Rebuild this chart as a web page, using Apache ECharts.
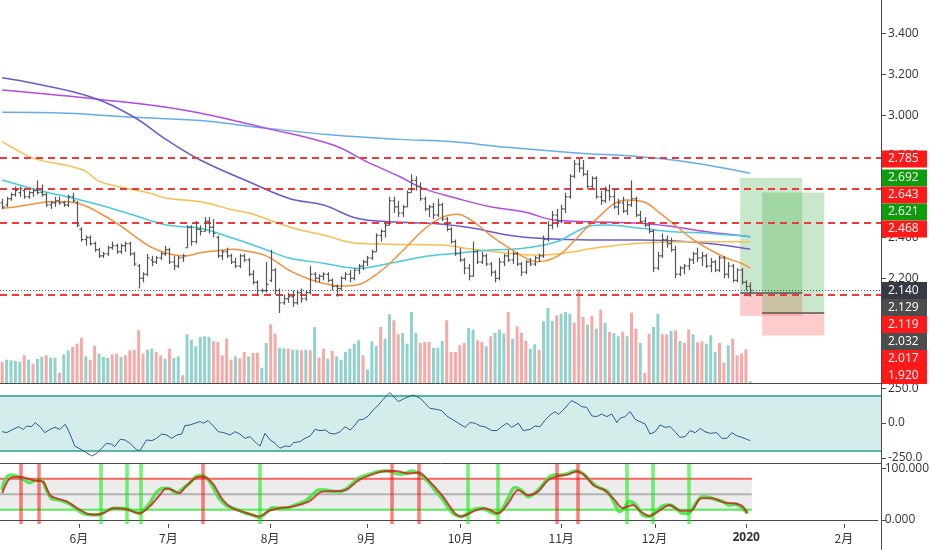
<!DOCTYPE html>
<html><head><meta charset="utf-8">
<script src="https://cdn.jsdelivr.net/npm/echarts@6/dist/echarts.min.js"></script>
<style>html,body{margin:0;padding:0;background:#fff}#c{width:932px;height:550px}</style>
</head><body><div id="c"></div>
<script>
// ---------- DATA ----------
const opens = [2.57,2.56,2.59,2.61,2.62,2.63,2.60,2.62,2.63,2.62,2.61,2.56,2.57,2.58,2.57,2.56,2.60,2.57,2.44,2.39,2.40,2.37,2.34,2.31,2.32,2.35,2.36,2.33,2.36,2.37,2.32,2.26,2.20,2.22,2.29,2.28,2.30,2.32,2.34,2.28,2.26,2.30,2.35,2.45,2.38,2.44,2.43,2.48,2.45,2.40,2.31,2.33,2.31,2.28,2.26,2.31,2.29,2.22,2.18,2.14,2.14,2.19,2.24,2.14,2.08,2.10,2.11,2.08,2.13,2.10,2.13,2.22,2.20,2.21,2.22,2.19,2.16,2.15,2.20,2.22,2.20,2.24,2.26,2.28,2.30,2.33,2.41,2.43,2.46,2.58,2.55,2.52,2.55,2.62,2.68,2.65,2.59,2.54,2.55,2.51,2.56,2.49,2.44,2.38,2.32,2.29,2.25,2.21,2.33,2.28,2.31,2.27,2.23,2.20,2.28,2.31,2.29,2.32,2.27,2.23,2.28,2.27,2.30,2.31,2.39,2.46,2.51,2.48,2.54,2.60,2.70,2.76,2.74,2.71,2.65,2.69,2.60,2.58,2.63,2.60,2.55,2.57,2.53,2.56,2.59,2.51,2.48,2.46,2.43,2.25,2.31,2.39,2.37,2.34,2.22,2.25,2.26,2.29,2.32,2.30,2.31,2.26,2.28,2.24,2.30,2.22,2.26,2.19,2.24,2.18,2.16];
const highs = [2.59,2.60,2.62,2.65,2.65,2.64,2.63,2.64,2.68,2.66,2.62,2.58,2.60,2.60,2.58,2.61,2.62,2.58,2.45,2.41,2.41,2.38,2.35,2.33,2.36,2.38,2.37,2.37,2.38,2.38,2.33,2.27,2.23,2.32,2.31,2.31,2.33,2.36,2.35,2.31,2.31,2.32,2.46,2.46,2.48,2.46,2.50,2.50,2.49,2.41,2.34,2.35,2.32,2.30,2.32,2.32,2.30,2.24,2.19,2.15,2.28,2.34,2.25,2.15,2.12,2.13,2.14,2.14,2.15,2.14,2.26,2.23,2.22,2.23,2.23,2.20,2.17,2.21,2.23,2.24,2.25,2.27,2.29,2.31,2.34,2.42,2.44,2.47,2.60,2.60,2.58,2.56,2.63,2.71,2.70,2.67,2.60,2.56,2.57,2.59,2.57,2.50,2.45,2.39,2.35,2.30,2.27,2.38,2.34,2.33,2.32,2.28,2.24,2.30,2.32,2.34,2.33,2.33,2.28,2.29,2.30,2.31,2.32,2.41,2.48,2.53,2.54,2.56,2.62,2.71,2.78,2.785,2.78,2.73,2.70,2.70,2.63,2.65,2.66,2.64,2.59,2.60,2.58,2.68,2.60,2.53,2.50,2.47,2.44,2.33,2.42,2.41,2.40,2.36,2.26,2.27,2.30,2.33,2.35,2.33,2.32,2.30,2.29,2.31,2.31,2.28,2.27,2.25,2.25,2.19,2.18];
const lows = [2.54,2.55,2.58,2.60,2.60,2.59,2.59,2.60,2.61,2.60,2.55,2.54,2.55,2.56,2.55,2.55,2.57,2.45,2.38,2.36,2.36,2.33,2.30,2.30,2.31,2.34,2.32,2.32,2.33,2.31,2.26,2.15,2.18,2.21,2.26,2.27,2.29,2.31,2.27,2.24,2.25,2.28,2.35,2.36,2.37,2.41,2.43,2.42,2.40,2.30,2.29,2.30,2.27,2.25,2.25,2.28,2.21,2.17,2.12,2.13,2.13,2.18,2.12,2.03,2.07,2.08,2.06,2.07,2.08,2.09,2.12,2.18,2.18,2.19,2.18,2.14,2.11,2.14,2.19,2.18,2.19,2.22,2.24,2.26,2.29,2.33,2.38,2.40,2.46,2.52,2.50,2.50,2.55,2.62,2.63,2.58,2.53,2.50,2.49,2.50,2.48,2.43,2.37,2.31,2.28,2.22,2.19,2.21,2.27,2.27,2.26,2.21,2.18,2.19,2.26,2.28,2.27,2.26,2.21,2.22,2.26,2.26,2.28,2.30,2.38,2.44,2.45,2.47,2.52,2.59,2.69,2.72,2.70,2.64,2.64,2.59,2.56,2.57,2.58,2.54,2.51,2.52,2.51,2.55,2.50,2.47,2.45,2.42,2.23,2.24,2.30,2.35,2.33,2.20,2.21,2.22,2.24,2.27,2.28,2.26,2.25,2.23,2.23,2.23,2.20,2.20,2.18,2.18,2.17,2.14,2.11];
const closes = [2.55,2.59,2.61,2.63,2.64,2.60,2.62,2.63,2.62,2.61,2.56,2.57,2.58,2.57,2.56,2.60,2.58,2.46,2.39,2.40,2.37,2.34,2.31,2.32,2.35,2.36,2.33,2.36,2.37,2.32,2.27,2.20,2.22,2.30,2.28,2.30,2.32,2.34,2.28,2.26,2.30,2.31,2.45,2.38,2.44,2.43,2.48,2.45,2.42,2.31,2.33,2.31,2.28,2.26,2.31,2.29,2.22,2.18,2.14,2.14,2.17,2.24,2.14,2.08,2.10,2.11,2.08,2.13,2.10,2.13,2.22,2.20,2.21,2.22,2.19,2.16,2.15,2.20,2.22,2.20,2.24,2.26,2.28,2.30,2.33,2.41,2.43,2.46,2.58,2.55,2.52,2.55,2.62,2.68,2.65,2.59,2.54,2.55,2.51,2.56,2.49,2.44,2.38,2.32,2.29,2.25,2.21,2.33,2.28,2.31,2.27,2.23,2.20,2.28,2.31,2.29,2.32,2.27,2.23,2.28,2.27,2.30,2.31,2.39,2.46,2.51,2.48,2.54,2.60,2.70,2.76,2.74,2.71,2.65,2.69,2.60,2.58,2.63,2.60,2.55,2.57,2.53,2.56,2.59,2.51,2.48,2.46,2.43,2.25,2.31,2.39,2.37,2.34,2.22,2.25,2.26,2.29,2.32,2.30,2.31,2.26,2.28,2.24,2.30,2.22,2.26,2.19,2.24,2.18,2.16,2.14];
const volumes = [21.0,23.3,22.7,22.0,21.3,27.7,23.3,19.3,24.0,26.0,27.7,25.3,25.3,10.0,28.7,32.7,36.0,39.3,45.3,26.7,23.3,37.0,29.3,26.0,25.3,28.7,29.3,26.0,27.7,32.7,33.3,52.7,29.3,33.3,34.3,31.0,27.7,24.3,34.3,25.0,26.7,7.7,48.7,43.3,36.7,46.0,46.7,46.0,41.7,41.0,27.7,44.3,23.3,26.7,24.7,31.0,26.7,30.0,30.0,15.3,40.0,58.7,49.3,35.3,34.7,34.3,33.3,33.3,32.7,33.3,32.7,56.0,25.3,34.3,24.3,32.0,26.7,23.3,31.0,34.3,39.3,42.7,27.7,13.7,41.7,37.0,56.0,44.3,68.7,62.7,48.7,50.0,39.3,71.0,50.3,40.0,41.0,41.0,35.3,35.3,42.0,62.7,31.0,31.0,37.7,40.0,55.0,53.3,42.7,41.0,36.7,46.7,50.0,53.3,49.3,71.0,44.3,56.7,50.0,42.0,34.3,38.7,33.3,61.7,75.0,62.0,67.7,69.3,71.0,69.3,60.3,93.7,66.0,58.3,67.0,54.3,73.3,60.3,51.0,50.0,46.7,51.0,46.7,70.3,54.3,40.0,10.0,49.3,56.0,69.3,48.7,48.7,52.0,52.7,42.0,40.0,53.7,48.7,40.7,41.7,39.3,47.7,31.0,40.0,20.0,37.7,44.3,27.7,29.3,33.7,1.7];
const volUp = [0,1,1,1,1,0,1,0,1,1,0,1,1,0,1,1,0,0,0,1,0,0,1,1,1,0,0,1,0,0,0,0,0,1,1,0,0,1,0,1,1,0,1,1,1,1,1,1,0,0,0,0,0,1,0,0,1,0,0,1,1,0,0,1,1,0,1,1,0,1,0,1,0,0,1,0,1,1,1,1,1,1,0,1,1,1,0,1,1,0,0,1,1,1,1,0,0,0,1,1,1,0,0,0,0,0,1,1,0,0,1,0,1,1,1,0,1,0,0,0,1,1,0,1,1,1,0,1,1,1,0,0,0,1,0,1,0,1,0,1,1,0,1,0,0,1,0,0,1,1,0,0,1,0,1,0,0,1,0,0,1,1,1,0,0,1,0,0,0,0,1];

// moving averages: [bar index, price]
const maFast = [[0,2.543],[3.3,2.551],[7.1,2.564],[10.9,2.575],[14.7,2.575],[18.4,2.559],[22.2,2.519],[26,2.470],[29.8,2.412],[33.6,2.355],[37.4,2.323],[41.2,2.309],[45,2.325],[48.8,2.335],[52.5,2.342],[56.3,2.330],[60.1,2.309],[63.9,2.257],[65.4,2.237],[69.2,2.200],[73,2.175],[76.8,2.162],[80.6,2.167],[84.3,2.208],[88.1,2.274],[91.9,2.355],[95.7,2.437],[99.5,2.494],[103.3,2.514],[107.1,2.477],[110.9,2.412],[114.7,2.355],[118.4,2.306],[121.5,2.281],[126,2.306],[129.8,2.379],[134.3,2.477],[141.9,2.584],[145.7,2.575],[149.5,2.519],[153.3,2.453],[157.1,2.388],[160.9,2.339],[164.7,2.298],[167.7,2.276],[170,2.250]];
const maCyan = [[0,2.682],[4,2.657],[9.3,2.625],[14.7,2.600],[22.2,2.559],[29.8,2.510],[37.4,2.461],[45,2.445],[52.5,2.396],[60.1,2.339],[65.4,2.298],[73,2.274],[80.6,2.249],[88.1,2.274],[95.7,2.306],[103.3,2.323],[110.9,2.339],[118.4,2.347],[126,2.379],[129.8,2.421],[133.6,2.456],[137.4,2.461],[145,2.445],[152.5,2.428],[160.1,2.421],[170,2.404]];
const maYellow = [[0,2.870],[3.3,2.829],[7.1,2.788],[18.4,2.731],[22.2,2.674],[33.6,2.617],[37.4,2.592],[45,2.575],[52.5,2.535],[56.3,2.519],[63.9,2.461],[67.7,2.437],[73,2.412],[80.6,2.372],[88.1,2.367],[99.5,2.363],[107.1,2.342],[114.7,2.323],[122.2,2.314],[129.8,2.330],[133.6,2.345],[145,2.372],[160.1,2.379],[170,2.379]];
const maSlate = [[0,3.183],[7.1,3.156],[20,3.090],[29.8,2.992],[37.4,2.878],[45,2.780],[56.3,2.671],[65.4,2.590],[73,2.559],[80.6,2.494],[88.1,2.477],[99.5,2.466],[107.1,2.445],[114.7,2.412],[122.2,2.396],[133.6,2.388],[145,2.388],[160.1,2.372],[170,2.342]];
const maViolet = [[0,3.123],[22.2,3.077],[41.2,3.025],[60.1,2.935],[75.2,2.853],[82.8,2.772],[90.4,2.698],[95.6,2.641],[103.3,2.592],[110.9,2.551],[118.4,2.526],[126,2.484],[133.6,2.477],[145,2.470],[152.5,2.453],[160.1,2.428],[170,2.404]];
const maSky = [[0,3.014],[14.7,3.009],[29.7,2.989],[45,2.973],[60.1,2.935],[75.2,2.902],[90.4,2.881],[101.8,2.870],[114.7,2.842],[129.8,2.816],[145,2.796],[152.5,2.780],[160.1,2.755],[170,2.715]];

// CCI: [bar index, value]
const cci = [[0,-63],[1,-70],[2.5,-46],[3.7,-27],[4.8,-46],[5.6,-22],[6.7,-27],[7.5,3],[8.6,-27],[9.7,-70],[10.9,-46],[12,-31],[13.1,-46],[14.3,-10],[15,-51],[15.8,-111],[16.5,-167],[17.7,-188],[18.8,-208],[20.3,-239],[21.5,-220],[22.6,-183],[23.7,-147],[24.9,-154],[25.6,-171],[26.8,-118],[27.9,-123],[29,-147],[30.6,-195],[31.3,-200],[32.8,-123],[34,-128],[35.1,-111],[36.2,-80],[37.4,-87],[38.5,-111],[39.7,-87],[40.8,-80],[41.5,-19],[42.7,-14],[43.8,-2],[45,10],[45.7,-2],[46.8,17],[48,-22],[49.1,-63],[50.3,-70],[51.8,-87],[52.9,-63],[54,-80],[55.2,-111],[56.3,-99],[57.8,-147],[58.6,-167],[59.7,-75],[60.9,-123],[62,-147],[63.1,-183],[64.3,-167],[65.4,-171],[66.2,-142],[67.7,-135],[68.8,-111],[70,-94],[71.1,-46],[72.2,-55],[73.4,-51],[74.5,-75],[75.6,-80],[76.8,-63],[77.9,-27],[79.1,-51],[80.2,-14],[81,22],[82.1,27],[83.2,51],[84.3,94],[85.5,130],[86.6,172],[88.1,220],[90,155],[91.5,179],[93.4,203],[95,179],[97.2,106],[98.7,99],[99.9,89],[101,51],[102.5,22],[103.7,-2],[105.2,-31],[106.3,3],[107.5,-2],[108.6,-22],[109.7,-27],[111.2,-55],[112.4,-55],[113.5,-27],[114.7,-2],[115.8,-31],[117.3,-2],[118.4,-55],[120,-46],[121.1,-22],[122.2,-27],[123.4,22],[124.5,58],[125.6,82],[126.4,63],[127.5,94],[128.7,138],[129.4,162],[130.6,143],[131.7,118],[132.8,114],[134,51],[135.1,46],[136.2,65],[137.4,46],[138.5,65],[139.7,3],[140.4,34],[141.5,46],[142.7,82],[143.8,27],[144.9,10],[146.1,-7],[147.2,-80],[148.4,-63],[149.5,-14],[150.6,-31],[151.8,-27],[152.9,-63],[154,-104],[155.2,-99],[156.3,-55],[157.5,-70],[158.6,-39],[159.7,-63],[160.9,-75],[162.4,-70],[163.5,-111],[164.7,-111],[165.8,-70],[167,-94],[168.1,-104],[169.2,-118],[170,-128]];

// Stochastic %K and %D: [bar index, value]
const stochK = [[0,58],[0.6,77],[1.8,87],[3.3,85],[4.8,79],[6.3,72],[7.8,77],[9,77],[10.1,58],[11.2,42],[12.8,39],[14.3,35],[15.8,29],[17.3,19],[18.8,12],[20.3,10],[21.9,10],[23,14],[24.1,19],[25.6,23],[27.2,23],[28.7,21],[30.2,16],[31.3,13],[32.5,21],[33.6,32],[35.1,52],[36.6,61],[38.1,61],[39.7,52],[41.2,61],[42.7,71],[44.2,84],[45.3,86],[46.5,83],[48,65],[49.5,42],[51,29],[52.5,23],[54,19],[55.6,13],[57.1,10],[58.6,5],[60.1,13],[61.6,24],[63.1,23],[64.7,23],[66.2,27],[67.7,32],[69.2,37],[70.7,48],[72.2,58],[73.7,58],[75.3,56],[76.8,55],[78.3,59],[79.8,70],[81.3,81],[82.8,86],[84.3,90],[85.9,94],[87.4,95],[88.9,94],[90.4,89],[91.9,90],[93.4,95],[95,90],[97.2,74],[98.7,58],[100.3,42],[101.8,23],[103.3,10],[104.8,7],[106.3,13],[107.8,21],[109.4,23],[110.9,18],[112.4,12],[113.9,19],[115.4,42],[116.9,63],[118.4,58],[120,45],[121.5,52],[123,65],[124.5,81],[126,87],[127.5,87],[129,90],[130.6,95],[132.1,92],[133.6,81],[135.1,68],[136.6,61],[138.1,55],[139.7,32],[140.8,16],[141.9,23],[143.1,36],[144.6,29],[146.1,10],[147.6,7],[149.1,16],[150.6,27],[152.2,29],[153.7,23],[155.2,13],[156.7,14],[158.2,32],[159.7,45],[161.2,44],[162.8,39],[164.3,36],[165.8,29],[167.3,31],[168.8,23],[170,13]];
const stochD = [[0,52],[1.8,81],[4,84],[7.1,77],[9.3,74],[10.9,48],[12.4,42],[14.7,36],[16.9,24],[19.2,13],[21.1,10],[23,13],[25.3,23],[28.3,21],[31.3,13],[33.6,26],[35.9,48],[37.4,61],[38.9,58],[40.4,52],[41.9,65],[44.2,82],[45.7,84],[48,71],[50.3,39],[52.5,23],[55.6,14],[58.6,7],[60.9,18],[63.1,23],[66.2,26],[70,36],[73,55],[76,56],[78.3,58],[81.3,77],[84.3,88],[87.4,95],[89.7,95],[92.7,90],[95,92],[97.2,77],[100.3,48],[103.3,13],[104.8,7],[107.8,18],[110.1,23],[113.1,13],[115.4,32],[117.7,58],[120,48],[122.2,55],[124.5,77],[126.8,85],[129,88],[131,94],[132.8,87],[135.1,66],[137.4,58],[139.7,39],[141.5,23],[143.8,29],[145.7,16],[147.6,8],[149.9,18],[152.2,29],[154.8,18],[157.1,18],[159.4,42],[162,42],[164.7,34],[167,32],[168.8,27],[170,13]];
const stochSell = [4.2,8.3,45.7,88.9,95.1,126.4,131.3];
const stochBuy = [22.4,28.4,31.5,58.7,106.2,113.1,142.5,148.4,156.5];
const stochLevels = [80,50,20];

// horizontal levels and trade setups
const levels = [2.785,2.643,2.468,2.119];
const lastPrice = 2.140;
const posStart = [167.7,172.7];
const posEnd = [181.8,186.8];
const posEntry = [2.129,2.032];
const posTarget = [2.692,2.621];
const posStop = [2.017,1.920];
const tagPrices = [2.785,2.692,2.643,2.621,2.468,2.140,2.129,2.119,2.032,2.017,1.920];
const tagKinds = ['level','target','level','target','level','last','entry','level','entry','stop','stop'];

// axis ticks
const monthPos = [17.5,37.9,61.1,83.1,104.5,127.5,148.8,169.7,192.0];
const monthLabels = ['6月','7月','8月','9月','10月','11月','12月','2020','2月'];
const priceTicks = [2.0,2.2,2.4,2.6,2.8,3.0,3.2,3.4];
const cciTicks = [250,0,-250];
const stochTicks = [100,0];

// ---------- CHART ----------
const chart = echarts.init(document.getElementById('c'));
const XMIN = -0.5, XMAX = 199.7;
const lastIdx = closes.length - 1;
const FONT = '"Open Sans", "Noto Sans", sans-serif';
const AX = '#4a4a4a';

const ohlc = opens.map((o, i) => [i, o, highs[i], lows[i], closes[i]]);
const volData = volumes.map((v, i) => ({
  value: [i, v],
  itemStyle: { color: volUp[i] ? 'rgba(38,166,154,0.5)' : 'rgba(239,83,80,0.5)' }
}));

function renderOHLC(params, api) {
  const x = api.value(0);
  const o = api.coord([x, api.value(1)]);
  const h = api.coord([x, api.value(2)]);
  const l = api.coord([x, api.value(3)]);
  const c = api.coord([x, api.value(4)]);
  const px = Math.round(o[0]) + 0.5;
  const st = { stroke: '#555', lineWidth: 1.2 };
  return { type: 'group', children: [
    { type: 'line', shape: { x1: px, y1: h[1], x2: px, y2: l[1] }, style: st },
    { type: 'line', shape: { x1: px - 2, y1: o[1], x2: px, y2: o[1] }, style: st },
    { type: 'line', shape: { x1: px, y1: c[1], x2: px + 2, y2: c[1] }, style: st }
  ]};
}

const xBase = { type: 'value', min: XMIN, max: XMAX, splitLine: { show: false },
  axisLine: { show: false }, axisTick: { show: false }, axisLabel: { show: false } };

function yLabel(ticks, digits) {
  return { customValues: ticks, color: '#333', fontSize: 12, fontFamily: FONT, margin: 7,
    formatter: v => Number(v).toFixed(digits) };
}

const maDefs = [
  [maSky, '#63aeea'], [maViolet, '#b24ae6'], [maSlate, '#6a5acd'],
  [maYellow, '#fbbf4f'], [maCyan, '#48cbdc'], [maFast, '#f4913c']
];

const posAreas = [];
const posLines = [];
posStart.forEach((s, k) => {
  posAreas.push([{ coord: [s, posTarget[k]], itemStyle: { color: 'rgba(76,175,80,0.3)' } }, { coord: [posEnd[k], posEntry[k]] }]);
  posAreas.push([{ coord: [s, posEntry[k]], itemStyle: { color: 'rgba(255,82,82,0.3)' } }, { coord: [posEnd[k], posStop[k]] }]);
  posLines.push([{ coord: [s, posEntry[k]] }, { coord: [posEnd[k], posEntry[k]] }]);
});

const series = [
  { type: 'bar', name: 'vol', xAxisIndex: 1, yAxisIndex: 1, data: volData, barWidth: 3, z: 1, silent: true },
  ...maDefs.map(([d, col]) => ({
    type: 'line', xAxisIndex: 0, yAxisIndex: 0, data: d, showSymbol: false, smooth: 0.4,
    lineStyle: { color: col, width: 1.5 }, z: 3, silent: true
  })),
  { type: 'custom', name: 'price', xAxisIndex: 0, yAxisIndex: 0, data: ohlc,
    renderItem: renderOHLC, encode: { x: 0, y: [1, 2, 3, 4] }, z: 5, silent: true,
    markLine: { silent: true, symbol: ['none', 'none'], label: { show: false },
      data: [
        ...levels.map(v => ({ yAxis: v, lineStyle: { color: '#f0393a', type: [7, 5], width: 2 } })),
        { yAxis: lastPrice, lineStyle: { color: '#555', type: [1, 2], width: 1 } },
        ...posLines.map(seg => [Object.assign({ lineStyle: { color: '#555', width: 1.5, type: 'solid' } }, seg[0]), seg[1]])
      ] },
    markArea: { silent: true, data: posAreas }
  },
  { type: 'line', xAxisIndex: 2, yAxisIndex: 2, data: cci, showSymbol: false,
    lineStyle: { color: '#2c5c96', width: 1 }, z: 5, silent: true,
    markArea: { silent: true, itemStyle: { color: 'rgba(38,166,154,0.2)' }, data: [[{ yAxis: -200 }, { yAxis: 200 }]] },
    markLine: { silent: true, symbol: ['none', 'none'], label: { show: false },
      lineStyle: { color: '#2a9d92', width: 1.5, type: 'solid' }, data: [{ yAxis: 200 }, { yAxis: -200 }] }
  },
  { type: 'line', xAxisIndex: 3, yAxisIndex: 3, data: [[XMIN, stochLevels[0]], [lastIdx + 1, stochLevels[0]]],
    showSymbol: false, lineStyle: { color: 'rgba(255,0,0,0.6)', width: 2 }, z: 2, silent: true,
    markArea: { silent: true, itemStyle: { color: 'rgba(150,150,150,0.18)' },
      data: [[{ coord: [XMIN, stochLevels[2]] }, { coord: [lastIdx + 1, stochLevels[0]] }]] } },
  { type: 'line', xAxisIndex: 3, yAxisIndex: 3, data: [[XMIN, stochLevels[1]], [lastIdx + 1, stochLevels[1]]],
    showSymbol: false, lineStyle: { color: 'rgba(140,140,140,0.6)', width: 2 }, z: 2, silent: true },
  { type: 'line', xAxisIndex: 3, yAxisIndex: 3, data: [[XMIN, stochLevels[2]], [lastIdx + 1, stochLevels[2]]],
    showSymbol: false, lineStyle: { color: 'rgba(0,230,0,0.65)', width: 2 }, z: 2, silent: true },
  { type: 'line', xAxisIndex: 3, yAxisIndex: 3, data: stochK, showSymbol: false, smooth: 0.3,
    lineStyle: { color: 'rgba(60,230,60,0.85)', width: 3.5 }, z: 4, silent: true,
    markLine: { silent: true, symbol: ['none', 'none'], label: { show: false },
      data: [
        ...stochSell.map(v => ({ xAxis: v, lineStyle: { color: 'rgba(255,0,0,0.5)', width: 3.5, type: 'solid' } })),
        ...stochBuy.map(v => ({ xAxis: v, lineStyle: { color: 'rgba(0,235,0,0.55)', width: 3.5, type: 'solid' } }))
      ] } },
  { type: 'line', xAxisIndex: 3, yAxisIndex: 3, data: stochD, showSymbol: false, smooth: 0.3,
    lineStyle: { color: 'rgba(205,30,30,0.8)', width: 2 }, z: 5, silent: true }
];

const option = {
  animation: false,
  backgroundColor: '#fff',
  textStyle: { fontFamily: FONT },
  grid: [
    { left: 0, right: 51, top: 0, height: 400.7 },
    { left: 0, right: 51, top: 283, height: 100 },
    { left: 0, right: 51, top: 383.5, height: 79.8 },
    { left: 0, right: 51, top: 463.5, height: 60.5 }
  ],
  xAxis: [
    Object.assign({}, xBase, { gridIndex: 0 }),
    Object.assign({}, xBase, { gridIndex: 1 }),
    Object.assign({}, xBase, { gridIndex: 2 }),
    Object.assign({}, xBase, { gridIndex: 3,
      axisLine: { show: true, lineStyle: { color: AX } },
      axisTick: { show: false },
      axisLabel: { show: true, customValues: monthPos, color: '#333', fontSize: 12, margin: 8,
        fontFamily: '"Noto Sans CJK SC", "Open Sans", sans-serif',
        rich: { b: { fontWeight: 'bold', fontSize: 12, color: '#333', fontFamily: '"Open Sans", sans-serif' } },
        formatter: v => {
          let k = 0, best = 1e9;
          monthPos.forEach((p, j) => { if (Math.abs(p - v) < best) { best = Math.abs(p - v); k = j; } });
          const t = monthLabels[k];
          return /^\d{4}$/.test(t) ? '{b|' + t + '}' : t;
        } } })
  ],
  yAxis: [
    { gridIndex: 0, type: 'value', position: 'right', min: 1.6, max: 3.5642,
      splitLine: { show: false }, axisLine: { show: false }, axisTick: { show: false }, axisLabel: yLabel(priceTicks, 3) },
    { gridIndex: 1, type: 'value', min: 0, max: 100, show: false },
    { gridIndex: 2, type: 'value', position: 'right', min: -292, max: 286,
      splitLine: { show: false }, axisLine: { show: false }, axisTick: { show: false }, axisLabel: yLabel(cciTicks, 1) },
    { gridIndex: 3, type: 'value', position: 'right', min: -7.7, max: 109.5,
      splitLine: { show: false }, axisLine: { show: false }, axisTick: { show: false }, axisLabel: yLabel(stochTicks, 3) }
  ],
  series: series
};
chart.setOption(option);

// separators, axis ticks and stacked price tags
const tagColor = { level: '#ff1a1a', stop: '#ff1a1a', target: '#0c9c0c', entry: '#4d4d4d', last: '#363a45' };
const els = [
  { type: 'line', shape: { x1: 0, y1: 383.5, x2: 881, y2: 383.5 }, style: { stroke: AX, lineWidth: 1 }, z: 50 },
  { type: 'line', shape: { x1: 0, y1: 463.5, x2: 881, y2: 463.5 }, style: { stroke: AX, lineWidth: 1 }, z: 50 },
  { type: 'line', shape: { x1: 881.5, y1: 0, x2: 881.5, y2: 550 }, style: { stroke: AX, lineWidth: 1 }, z: 50 }
];
function hTick(y) {
  const yy = Math.round(y) + 0.5;
  els.push({ type: 'line', shape: { x1: 882, y1: yy, x2: 886, y2: yy }, style: { stroke: AX, lineWidth: 1 }, z: 50 });
}
priceTicks.forEach(v => hTick(chart.convertToPixel({ yAxisIndex: 0 }, v)));
cciTicks.forEach(v => hTick(chart.convertToPixel({ yAxisIndex: 2 }, v)));
stochTicks.forEach(v => hTick(chart.convertToPixel({ yAxisIndex: 3 }, v)));
monthPos.forEach(v => {
  const xx = Math.round(chart.convertToPixel({ xAxisIndex: 3 }, v)) + 0.5;
  els.push({ type: 'line', shape: { x1: xx, y1: 524, x2: xx, y2: 528 }, style: { stroke: AX, lineWidth: 1 }, z: 50 });
});
const order = tagPrices.map((p, i) => i).sort((a, b) => tagPrices[b] - tagPrices[a]);
let prevY = -1e9;
order.forEach(i => {
  let y = chart.convertToPixel({ yAxisIndex: 0 }, tagPrices[i]);
  y = Math.max(y, prevY + 17);
  prevY = y;
  els.push({ type: 'rect', shape: { x: 882, y: y - 8.5, width: 45, height: 17 },
    style: { fill: tagColor[tagKinds[i]] }, z: 100 });
  els.push({ type: 'text', x: 888, y: y,
    style: { text: tagPrices[i].toFixed(3), fill: '#fff', fontSize: 12, fontFamily: FONT,
      verticalAlign: 'middle', textVerticalAlign: 'middle' }, z: 101 });
});
chart.setOption({ graphic: { elements: els } });
</script>
</body></html>
